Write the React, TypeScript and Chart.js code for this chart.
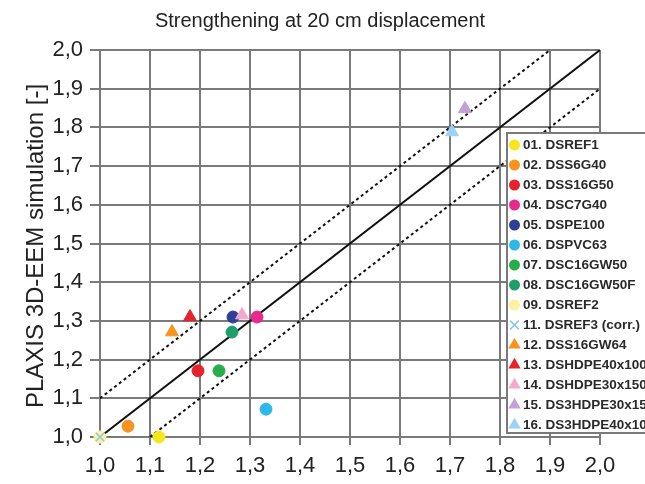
import React, { useEffect, useRef } from "react";
import { Chart, registerables } from "chart.js";

Chart.register(...registerables);

const TITLE = "Strengthening at 20 cm displacement";
const Y_TITLE = "PLAXIS 3D-EEM simulation [-]";

const tickValues = [1.0, 1.1, 1.2, 1.3, 1.4, 1.5, 1.6, 1.7, 1.8, 1.9, 2.0];

const seriesLabels = [
  "01. DSREF1",
  "02. DSS6G40",
  "03. DSS16G50",
  "04. DSC7G40",
  "05. DSPE100",
  "06. DSPVC63",
  "07. DSC16GW50",
  "08. DSC16GW50F",
  "09. DSREF2",
  "11. DSREF3 (corr.)",
  "12. DSS16GW64",
  "13. DSHDPE40x100",
  "14. DSHDPE30x150",
  "15. DS3HDPE30x150",
  "16. DS3HDPE40x100",
];

const xValues = [1.118, 1.056, 1.196, 1.314, 1.266, 1.332, 1.238, 1.264, 1.0, 1.0, 1.144, 1.18, 1.284, 1.73, 1.704];
const yValues = [1.0, 1.028, 1.171, 1.31, 1.31, 1.072, 1.171, 1.271, 1.0, 1.0, 1.271, 1.31, 1.315, 1.848, 1.788];

const seriesColors = [
  "#f7e61c",
  "#f7931e",
  "#e5232b",
  "#e6288f",
  "#2e3f98",
  "#2cb9ea",
  "#27ae4a",
  "#1f9e6a",
  "#fdf0a0",
  "#8cc6ec",
  "#f7931e",
  "#e5232b",
  "#f5a8cb",
  "#c2a2d6",
  "#9dd2f2",
];

const seriesMarkers = [
  "circle", "circle", "circle", "circle", "circle", "circle", "circle", "circle", "circle",
  "cross", "triangle", "triangle", "triangle", "triangle", "triangle",
];

// Reference lines: 1:1 and +/- 0.1
const lineSolidX = [1.0, 2.0];
const lineSolidY = [1.0, 2.0];
const lineUpperX = [1.0, 1.9];
const lineUpperY = [1.1, 2.0];
const lineLowerX = [1.1, 2.0];
const lineLowerY = [1.0, 1.9];

const FONT = "'Liberation Sans', Arial, sans-serif";

function fmt(v: number) {
  return v.toFixed(1).replace(".", ",");
}

function drawMarker(ctx: CanvasRenderingContext2D, style: string, x: number, y: number, color: string, r: number) {
  ctx.save();
  ctx.fillStyle = color;
  ctx.strokeStyle = color;
  ctx.beginPath();
  if (style === "circle") {
    ctx.arc(x, y, r, 0, Math.PI * 2);
    ctx.fill();
  } else if (style === "triangle") {
    const R = r * 1.3;
    ctx.moveTo(x, y - R);
    ctx.lineTo(x + R * 0.866, y + R * 0.5);
    ctx.lineTo(x - R * 0.866, y + R * 0.5);
    ctx.closePath();
    ctx.fill();
  } else {
    ctx.lineWidth = 1.5;
    const d = r * 0.8;
    ctx.moveTo(x - d, y - d);
    ctx.lineTo(x + d, y + d);
    ctx.moveTo(x + d, y - d);
    ctx.lineTo(x - d, y + d);
    ctx.stroke();
  }
  ctx.restore();
}

const decorPlugin = {
  id: "decor",
  afterDraw(chart: any) {
    const ctx: CanvasRenderingContext2D = chart.ctx;
    ctx.save();
    // Title
    ctx.fillStyle = "#222";
    ctx.font = `20px ${FONT}`;
    ctx.textAlign = "center";
    ctx.textBaseline = "middle";
    ctx.fillText(TITLE, 320, 21);
    // Y axis title
    ctx.save();
    ctx.translate(36, 246);
    ctx.rotate(-Math.PI / 2);
    ctx.font = `24px ${FONT}`;
    ctx.fillText(Y_TITLE, 0, 0);
    ctx.restore();

    // Legend box
    const bx = 507, by = 133, bw = 160, bh = 300;
    ctx.fillStyle = "#ffffff";
    ctx.fillRect(bx, by, bw, bh);
    ctx.strokeStyle = "#7a7a7a";
    ctx.lineWidth = 2;
    ctx.strokeRect(bx, by, bw, bh);
    ctx.font = `bold 13.5px ${FONT}`;
    ctx.textAlign = "left";
    ctx.textBaseline = "middle";
    for (let i = 0; i < seriesLabels.length; i++) {
      const y = 145 + i * 20;
      drawMarker(ctx, seriesMarkers[i], 514.5, y, seriesColors[i], 5.5);
      ctx.fillStyle = "#2a2a2a";
      ctx.fillText(seriesLabels[i], 523, y + 0.5);
    }
    ctx.restore();
  },
};

export default function App() {
  const ref = useRef<HTMLCanvasElement>(null);

  useEffect(() => {
    const canvas = ref.current!;
    const pointSets = seriesLabels.map((label, i) => ({
      label,
      data: [{ x: xValues[i], y: yValues[i] }],
      pointStyle: seriesMarkers[i] === "cross" ? "crossRot" : seriesMarkers[i],
      pointRadius: seriesMarkers[i] === "triangle" ? 7.5 : 6,
      backgroundColor: seriesColors[i],
      borderColor: seriesColors[i],
      borderWidth: seriesMarkers[i] === "cross" ? 1.5 : 1,
      showLine: false,
      clip: false,
      order: 20 - i,
    }));
    const mkLine = (xs: number[], ys: number[], dash: number[]) => ({
      label: "",
      data: xs.map((x, k) => ({ x, y: ys[k] })),
      showLine: true,
      borderColor: "#111",
      borderWidth: 2,
      borderDash: dash,
      pointRadius: 0,
      fill: false,
      order: 100,
    });
    const chart = new Chart(canvas, {
      type: "scatter",
      data: {
        datasets: [
          ...pointSets,
          mkLine(lineSolidX, lineSolidY, []),
          mkLine(lineUpperX, lineUpperY, [3, 3]),
          mkLine(lineLowerX, lineLowerY, [3, 3]),
        ] as any,
      },
      options: {
        animation: false,
        responsive: false,
        devicePixelRatio: 1,
        layout: { padding: { left: 0, right: 45, top: 50, bottom: 0 } },
        plugins: {
          legend: { display: false },
          title: { display: false },
          tooltip: { enabled: false },
        },
        scales: {
          x: {
            type: "linear",
            min: 1.0,
            max: 2.0,
            afterBuildTicks: (s: any) => {
              s.ticks = tickValues.map((v) => ({ value: v }));
            },
            afterFit: (s: any) => {
              s.height = 47;
            },
            grid: { color: "#7a7a7a", lineWidth: 2, tickLength: 8, drawTicks: true },
            border: { display: true, color: "#7a7a7a", width: 2 },
            ticks: {
              color: "#222",
              font: { family: FONT, size: 22 },
              padding: 8,
              maxRotation: 0,
              autoSkip: false,
              callback: (v: any) => fmt(Number(v)),
            },
          },
          y: {
            type: "linear",
            min: 1.0,
            max: 2.0,
            afterBuildTicks: (s: any) => {
              s.ticks = tickValues.map((v) => ({ value: v }));
            },
            afterFit: (s: any) => {
              s.width = 100;
            },
            grid: { color: "#7a7a7a", lineWidth: 2, tickLength: 10, drawTicks: true },
            border: { display: true, color: "#7a7a7a", width: 2 },
            ticks: {
              color: "#222",
              font: { family: FONT, size: 22 },
              padding: 7,
              autoSkip: false,
              callback: (v: any) => fmt(Number(v)),
            },
          },
        },
      },
      plugins: [decorPlugin],
    });
    return () => chart.destroy();
  }, []);

  return (
    <div style={{ position: "absolute", left: 0, top: 0, width: 645, height: 484 }}>
      <canvas ref={ref} width={645} height={484} style={{ display: "block", width: 645, height: 484 }} />
    </div>
  );
}
